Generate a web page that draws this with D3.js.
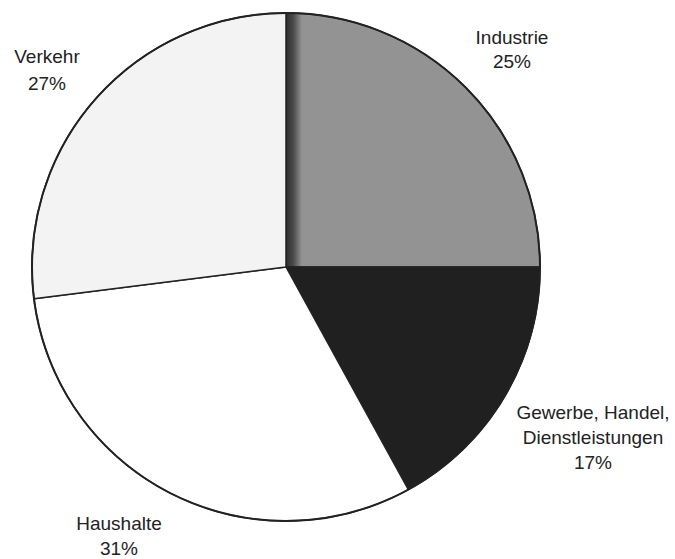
<!DOCTYPE html>
<html>
<head>
<meta charset="utf-8">
<script src="https://cdn.jsdelivr.net/npm/d3@7"></script>
<style>
  html, body { margin: 0; padding: 0; background: #fff; }
  svg { display: block; }
</style>
</head>
<body>
<svg id="chart" width="675" height="559"></svg>
<script>
// Data
const categories = ["Industrie", "Gewerbe, Handel, Dienstleistungen", "Haushalte", "Verkehr"];
const values = [25, 17, 31, 27];
const labelLines = [["Industrie", "25%"], ["Gewerbe, Handel,", "Dienstleistungen", "17%"], ["Haushalte", "31%"], ["Verkehr", "27%"]];

const fills = ["url(#indGrad)", "#202020", "#ffffff", "#f3f3f3"];
const labelPos = [
  { x: 512, y: 44 },
  { x: 593, y: 419 },
  { x: 119, y: 530 },
  { x: 47, y: 63 }
];
const lineGaps = [24, 25, 25, 27];

const svg = d3.select("#chart");
const cx = 286, cy = 267, r = 254;

const defs = svg.append("defs");
const grad = defs.append("linearGradient")
  .attr("id", "indGrad")
  .attr("gradientUnits", "userSpaceOnUse")
  .attr("x1", 0).attr("y1", 0).attr("x2", 16).attr("y2", 0);
grad.append("stop").attr("offset", 0).attr("stop-color", "#2e2e2e");
grad.append("stop").attr("offset", 0.45).attr("stop-color", "#4a4a4a");
grad.append("stop").attr("offset", 1).attr("stop-color", "#939393");

const pie = d3.pie().sort(null).value(d => d)(values);
const arc = d3.arc().innerRadius(0).outerRadius(r);

const g = svg.append("g").attr("transform", `translate(${cx},${cy})`);
g.selectAll("path.slice")
  .data(pie)
  .join("path")
  .attr("class", "slice")
  .attr("d", arc)
  .attr("fill", (d, i) => fills[i])
  .attr("stroke", "#222")
  .attr("stroke-width", 1.5)
  .attr("stroke-linejoin", "round");

g.append("circle")
  .attr("r", r)
  .attr("fill", "none")
  .attr("stroke", "#222")
  .attr("stroke-width", 2);

const labels = svg.append("g")
  .attr("font-family", "Liberation Sans, Arial, sans-serif")
  .attr("font-size", 19)
  .attr("fill", "#222")
  .attr("text-anchor", "middle");

labelLines.forEach((lines, i) => {
  const t = labels.append("text")
    .attr("x", labelPos[i].x)
    .attr("y", labelPos[i].y);
  lines.forEach((ln, j) => {
    t.append("tspan")
      .attr("x", labelPos[i].x)
      .attr("y", labelPos[i].y + j * lineGaps[i])
      .text(ln);
  });
});
</script>
</body>
</html>
